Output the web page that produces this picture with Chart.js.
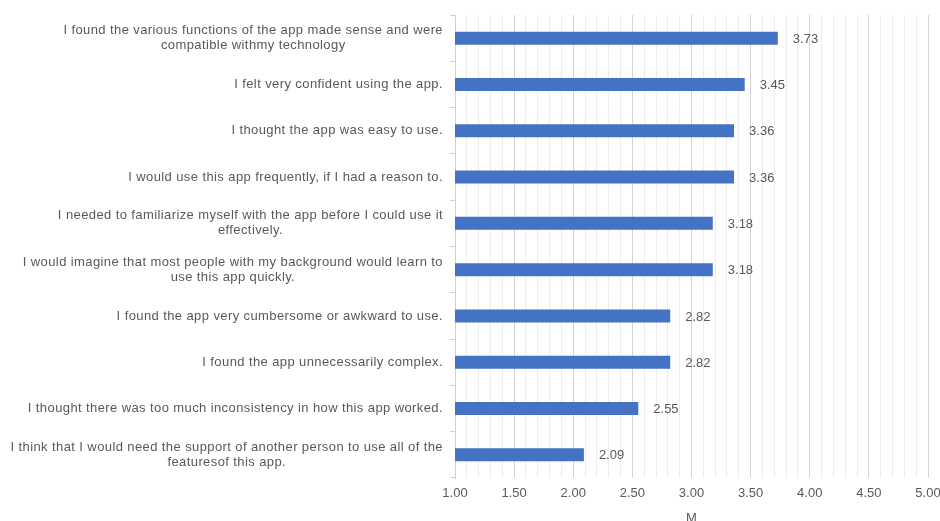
<!DOCTYPE html>
<html>
<head>
<meta charset="utf-8">
<script src="https://cdn.jsdelivr.net/npm/chart.js@4.4.1/dist/chart.umd.min.js"></script>
<style>
  html, body { margin: 0; padding: 0; background: #fff; }
  #wrap { width: 940px; height: 521px; }
</style>
</head>
<body>
<div id="wrap"><canvas id="usabilityChart"></canvas></div>
<script>
// survey statements (already wrapped into lines) and their mean scores
const statements = [
    ['I found the various functions of the app made sense and were', 'compatible withmy technology'],
    ['I felt very confident using the app.'],
    ['I thought the app was easy to use.'],
    ['I would use this app frequently, if I had a reason to.'],
    ['I needed to familiarize myself with the app before I could use it', 'effectively.'],
    ['I would imagine that most people with my background would learn to', 'use this app quickly.'],
    ['I found the app very cumbersome or awkward to use.'],
    ['I found the app unnecessarily complex.'],
    ['I thought there was too much inconsistency in how this app worked.'],
    ['I think that I would need the support of another person to use all of the', 'featuresof this app.']
];
const means = [3.73, 3.45, 3.36, 3.36, 3.18, 3.18, 2.82, 2.82, 2.55, 2.09];
const xTicks = [1.00, 1.50, 2.00, 2.50, 3.00, 3.50, 4.00, 4.50, 5.00];

const textColor = '#595959';
const fontFamily = '"Liberation Sans", Arial, sans-serif';
const textFont = '13px ' + fontFamily;

// statement text: right-aligned block next to the axis, lines centred within it
const statementLabels = {
    id: 'statementLabels',
    afterDraw(chart) {
        const ctx = chart.ctx;
        const y = chart.scales.y;
        const right = chart.chartArea.left - 12;
        ctx.save();
        ctx.font = textFont;
        ctx.letterSpacing = '0.4px';
        ctx.fillStyle = textColor;
        ctx.textAlign = 'center';
        ctx.textBaseline = 'middle';
        statements.forEach((lines, i) => {
            const cy = y.getPixelForValue(i);
            const w = Math.max(...lines.map(l => ctx.measureText(l).width));
            const lineH = 15;
            const top = cy - (lines.length - 1) * lineH / 2;
            lines.forEach((l, j) => ctx.fillText(l, right - w / 2, top + j * lineH));
        });
        ctx.restore();
    }
};

// mean value printed to the right of each bar
const valueLabels = {
    id: 'valueLabels',
    afterDatasetsDraw(chart) {
        const ctx = chart.ctx;
        const meta = chart.getDatasetMeta(0);
        ctx.save();
        ctx.font = textFont;
        ctx.fillStyle = textColor;
        ctx.textAlign = 'left';
        ctx.textBaseline = 'middle';
        meta.data.forEach((bar, i) => {
            ctx.fillText(means[i].toFixed(2), bar.x + 15, bar.y + 1);
        });
        ctx.restore();
    }
};

const ctx = document.getElementById('usabilityChart').getContext('2d');
const usabilityChart = new Chart(ctx, {
    type: 'bar',
    data: {
        labels: statements,
        datasets: [{
            label: 'M',
            data: means,
            backgroundColor: '#4472C4',
            borderWidth: 0,
            barPercentage: 0.56,
            categoryPercentage: 0.5
        }]
    },
    options: {
        indexAxis: 'y',
        responsive: true,
        maintainAspectRatio: false,
        animation: false,
        layout: { padding: { top: 15, right: 0, bottom: 0, left: 0 } },
        plugins: {
            legend: { display: false },
            tooltip: { enabled: false }
        },
        scales: {
            x: {
                min: 1,
                max: 5,
                ticks: {
                    stepSize: 0.1,
                    autoSkip: false,
                    maxRotation: 0,
                    color: textColor,
                    font: { family: fontFamily, size: 13 },
                    padding: 8,
                    callback: v => {
                        const t = xTicks.find(x => Math.abs(x - v) < 1e-6);
                        return t === undefined ? '' : t.toFixed(2);
                    }
                },
                grid: {
                    color: c => {
                        const v = Math.round(c.tick.value * 10);
                        return v % 5 === 0 ? '#d4d4d4' : '#ececec';
                    },
                    drawTicks: false
                },
                border: { display: false },
                title: {
                    display: true,
                    text: 'M',
                    color: textColor,
                    font: { family: fontFamily, size: 13 },
                    padding: { top: 0, bottom: -5 }
                },
                afterFit: s => {
                    s.height = 43;
                    s.paddingLeft = 0;
                    s.paddingRight = 12;
                }
            },
            y: {
                ticks: { display: false },
                grid: {
                    offset: true,
                    drawOnChartArea: false,
                    tickLength: 5,
                    color: '#d0d0d0'
                },
                border: { display: true, color: '#d0d0d0' },
                afterFit: s => { s.width = 455; }
            }
        }
    },
    plugins: [statementLabels, valueLabels]
});
</script>
</body>
</html>
